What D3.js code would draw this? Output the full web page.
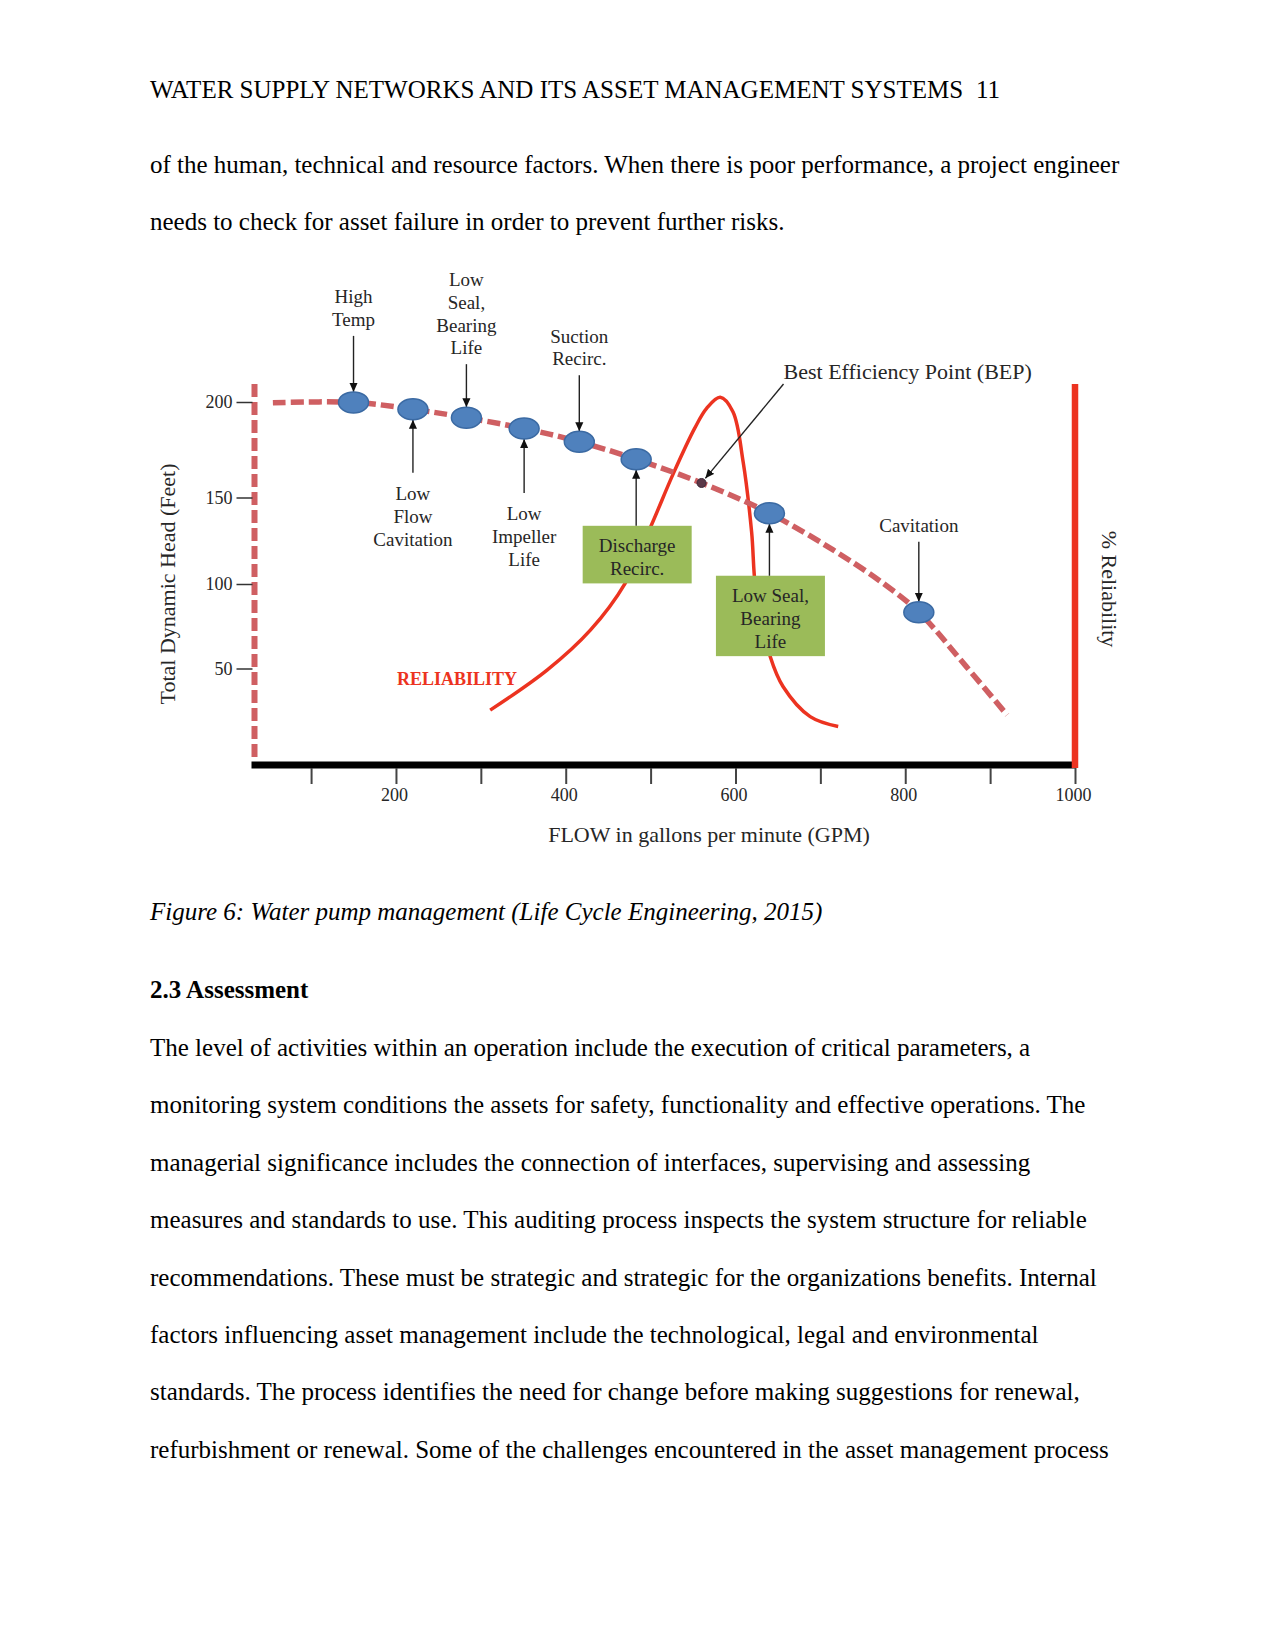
<!DOCTYPE html>
<html>
<head>
<meta charset="utf-8">
<script src="https://cdn.jsdelivr.net/npm/d3@7"></script>
<style>
  body { margin: 0; background: #fff; }
  svg text { font-family: "Liberation Serif", "Times New Roman", serif; }
</style>
</head>
<body>
<div id="page"></div>
<script>
/* DATA */
const flowTicks = [100, 200, 300, 400, 500, 600, 700, 800, 900, 1000];
const headTicks = [50, 100, 150, 200];

// pump curve (dashed) - flow in GPM, total dynamic head in feet
const pumpFlow = [55, 150, 220, 283, 351, 416, 483, 560, 640, 715, 774, 816, 872, 920];
const pumpHead = [199.6, 199.8, 196.2, 191.8, 186.1, 179.2, 170.0, 157.6, 140.9, 119.7, 100.4, 83.3, 51.1, 25.9];

// reliability curve (solid red) - % reliability
const relFlow = [311, 378, 429, 470, 501, 527, 552, 566, 582, 597, 609, 619, 624, 641, 656, 688, 721];
const relPct = [14.4, 24.9, 35.4, 47.7, 63.0, 76.6, 88.4, 93.6, 96.5, 92.7, 79.6, 61.2, 45.9, 28.4, 20.6, 12.7, 10.1];

// failure modes sitting on the pump curve
const modeLabels = [["High", "Temp"], ["Low", "Flow", "Cavitation"], ["Low", "Seal,", "Bearing", "Life"],
  ["Low", "Impeller", "Life"], ["Suction", "Recirc."], ["Discharge", "Recirc."],
  ["Low Seal,", "Bearing", "Life"], ["Cavitation"]];
const modeFlow = [150, 220, 283, 351, 416, 483, 640, 816];
const modeHead = [199.8, 196.2, 191.8, 186.1, 179.2, 170.0, 140.9, 83.3];

const bepFlow = 560, bepHead = 157.6;

// page text
const headerText = "WATER SUPPLY NETWORKS AND ITS ASSET MANAGEMENT SYSTEMS";
const pageNumber = "11";
const introLines = [
  "of the human, technical and resource factors. When there is poor performance, a project engineer",
  "needs to check for asset failure in order to prevent further risks."
];
const captionText = "Figure 6: Water pump management (Life Cycle Engineering, 2015)";
const headingText = "2.3 Assessment";
const bodyLines = [
  "The level of activities within an operation include the execution of critical parameters, a",
  "monitoring system conditions the assets for safety, functionality and effective operations. The",
  "managerial significance includes the connection of interfaces, supervising and assessing",
  "measures and standards to use. This auditing process inspects the system structure for reliable",
  "recommendations. These must be strategic and strategic for the organizations benefits. Internal",
  "factors influencing asset management include the technological, legal and environmental",
  "standards. The process identifies the need for change before making suggestions for renewal,",
  "refurbishment or renewal. Some of the challenges encountered in the asset management process"
];

/* LAYOUT */
const W = 1275, H = 1650;
const leftMargin = 150, lineGap = 57.4;
const plotLeft = 254.5, plotTop = 384;
const labelPlacement = ["above", "below", "above", "below", "above", "box", "box", "above"];
const arrowLen = [56, 53, 43, 54, 56, 56, 52, 60];
const ellRx = 15, ellRy = 10.5, annLine = 22.8;

const colors = {
  pump: "#cf5f62",
  rel: "#ec3320",
  ellipse: "#4f81bd",
  ellipseStroke: "#3b6aa3",
  box: "#9bbb59",
  ink: "#262626"
};

const svg = d3.select("#page").append("svg")
  .attr("width", W)
  .attr("height", H);

/* PAGE TEXT */
const page = svg.append("g").attr("font-size", 25).attr("fill", "#000");
page.append("text").attr("x", leftMargin).attr("y", 97.5).text(headerText);
page.append("text").attr("x", 976).attr("y", 97.5).text(pageNumber);
introLines.forEach((t, i) => page.append("text").attr("x", leftMargin).attr("y", 172.5 + i * lineGap).text(t));
page.append("text").attr("x", leftMargin).attr("y", 919.5).attr("font-style", "italic").text(captionText);
page.append("text").attr("x", leftMargin).attr("y", 997.5).attr("font-weight", "bold").text(headingText);
bodyLines.forEach((t, i) => page.append("text").attr("x", leftMargin).attr("y", 1056 + i * lineGap).text(t));

/* SCALES */
const x = d3.scaleLinear().domain([0, 1000]).range([226.2, 1075]);
const y = d3.scaleLinear().domain([0, 50, 100, 150, 200]).range([765, 668.5, 584, 497.5, 402]);
const yRel = d3.scaleLinear().domain([0, 100]).range([765, plotTop]);

const chart = svg.append("g").attr("fill", colors.ink);

// arrow head
svg.append("defs").append("marker")
  .attr("id", "arrow")
  .attr("viewBox", "0 0 10 10")
  .attr("refX", 10).attr("refY", 5)
  .attr("markerUnits", "userSpaceOnUse")
  .attr("markerWidth", 9).attr("markerHeight", 9)
  .attr("orient", "auto")
  .append("path").attr("d", "M0,0.5 L10,5 L0,9.5 z").attr("fill", "#111");

/* AXES */
// left axis: dashed red line with ticks on the left
chart.append("line")
  .attr("x1", plotLeft).attr("x2", plotLeft)
  .attr("y1", plotTop).attr("y2", y(0) - 3)
  .attr("stroke", colors.pump).attr("stroke-width", 6)
  .attr("stroke-dasharray", "13,5");

const yAxis = chart.append("g")
  .attr("transform", `translate(${plotLeft - 2}, 0)`)
  .call(d3.axisLeft(y).tickValues(headTicks).tickSize(16).tickPadding(4).tickSizeOuter(0));
yAxis.select(".domain").remove();
yAxis.selectAll("line").attr("stroke", "#333").attr("stroke-width", 1.5);
yAxis.selectAll("text").attr("font-size", 18).attr("fill", colors.ink)
  .attr("font-family", "Liberation Serif");

// bottom axis: heavy black bar, minor ticks every 100, labels every 200
chart.append("line")
  .attr("x1", plotLeft - 3).attr("x2", x(1000))
  .attr("y1", y(0)).attr("y2", y(0))
  .attr("stroke", "#000").attr("stroke-width", 7);

const xAxis = chart.append("g")
  .attr("transform", `translate(0, ${y(0) + 3})`)
  .call(d3.axisBottom(x).tickValues(flowTicks).tickSize(16).tickPadding(4)
    .tickFormat(d => d % 200 === 0 ? d : ""));
xAxis.select(".domain").remove();
xAxis.selectAll("line").attr("stroke", "#444").attr("stroke-width", 2);
xAxis.selectAll("text").attr("font-size", 18).attr("fill", colors.ink)
  .attr("font-family", "Liberation Serif")
  .attr("dx", -2);

// right axis: solid red bar for % reliability
chart.append("line")
  .attr("x1", x(1000)).attr("x2", x(1000))
  .attr("y1", yRel(100)).attr("y2", y(0) + 3)
  .attr("stroke", colors.rel).attr("stroke-width", 6.5);

// axis titles
chart.append("text")
  .attr("transform", `translate(167, 584) rotate(-90)`)
  .attr("text-anchor", "middle").attr("dominant-baseline", "central")
  .attr("font-size", 22)
  .text("Total Dynamic Head (Feet)");

chart.append("text")
  .attr("x", 709).attr("y", 842)
  .attr("text-anchor", "middle")
  .attr("font-size", 22)
  .text("FLOW in gallons per minute (GPM)");

chart.append("text")
  .attr("transform", `translate(1109, 589) rotate(90)`)
  .attr("text-anchor", "middle").attr("dominant-baseline", "central")
  .attr("font-size", 22)
  .text("% Reliability");

/* RELIABILITY CURVE */
const relLine = d3.line()
  .x((d, i) => x(relFlow[i]))
  .y(d => yRel(d))
  .curve(d3.curveCatmullRom.alpha(0.5));

chart.append("path")
  .attr("d", relLine(relPct))
  .attr("fill", "none")
  .attr("stroke", colors.rel).attr("stroke-width", 3.5);

chart.append("text")
  .attr("x", x(272)).attr("y", yRel(22.5) + 6)
  .attr("text-anchor", "middle")
  .attr("font-size", 18).attr("font-weight", "bold")
  .attr("fill", colors.rel)
  .text("RELIABILITY");

/* PUMP CURVE */
const pumpLine = d3.line()
  .x((d, i) => x(pumpFlow[i]))
  .y(d => y(d))
  .curve(d3.curveCatmullRom.alpha(0.5));

chart.append("path")
  .attr("d", pumpLine(pumpHead))
  .attr("fill", "none")
  .attr("stroke", colors.pump).attr("stroke-width", 5.5)
  .attr("stroke-dasharray", "13,5");

/* ANNOTATIONS */
function arrow(x1, y1, x2, y2) {
  chart.append("line")
    .attr("x1", x1).attr("y1", y1).attr("x2", x2).attr("y2", y2)
    .attr("stroke", "#222").attr("stroke-width", 1.4)
    .attr("marker-end", "url(#arrow)");
}

function lines(cx, firstCenter, arr) {
  const t = chart.append("text")
    .attr("text-anchor", "middle")
    .attr("font-size", 19);
  arr.forEach((s, k) => {
    t.append("tspan").attr("x", cx).attr("y", firstCenter + k * annLine).attr("dy", "0.33em").text(s);
  });
}

modeLabels.forEach((lab, i) => {
  const cx = x(modeFlow[i]), cy = y(modeHead[i]);
  const place = labelPlacement[i], len = arrowLen[i];
  if (place === "above") {
    const start = cy - ellRy - len;
    arrow(cx, start, cx, cy - ellRy);
    lines(cx, start - 16 - (lab.length - 1) * annLine, lab);
  } else if (place === "below") {
    const start = cy + ellRy + len;
    arrow(cx, start, cx, cy + ellRy);
    lines(cx, start + 21, lab);
  } else {
    const top = cy + ellRy + len;
    const bh = lab.length * annLine + 12, bw = 109;
    chart.append("rect")
      .attr("x", cx + 1 - bw / 2).attr("y", top)
      .attr("width", bw).attr("height", bh)
      .attr("fill", colors.box);
    arrow(cx, top, cx, cy + ellRy);
    lines(cx + 1, top + 20, lab);
  }
});

// failure-mode markers
chart.selectAll("ellipse.mode")
  .data(modeFlow)
  .join("ellipse")
  .attr("class", "mode")
  .attr("cx", d => x(d))
  .attr("cy", (d, i) => y(modeHead[i]))
  .attr("rx", ellRx).attr("ry", ellRy)
  .attr("fill", colors.ellipse)
  .attr("stroke", colors.ellipseStroke).attr("stroke-width", 1.5);

// best efficiency point
const bx = x(bepFlow), by = y(bepHead);
chart.append("circle")
  .attr("cx", bx).attr("cy", by).attr("r", 4.5)
  .attr("fill", "#5b3848").attr("stroke", "#3a2a3a").attr("stroke-width", 1);

const tx = bx + 82, ty = by - 99;
const dx = tx - bx, dy = ty - by, dl = Math.hypot(dx, dy);
arrow(tx, ty, bx + dx / dl * 6, by + dy / dl * 6);

chart.append("text")
  .attr("x", bx + 82).attr("y", by - 104)
  .attr("font-size", 22)
  .text("Best Efficiency Point (BEP)");
</script>
</body>
</html>
